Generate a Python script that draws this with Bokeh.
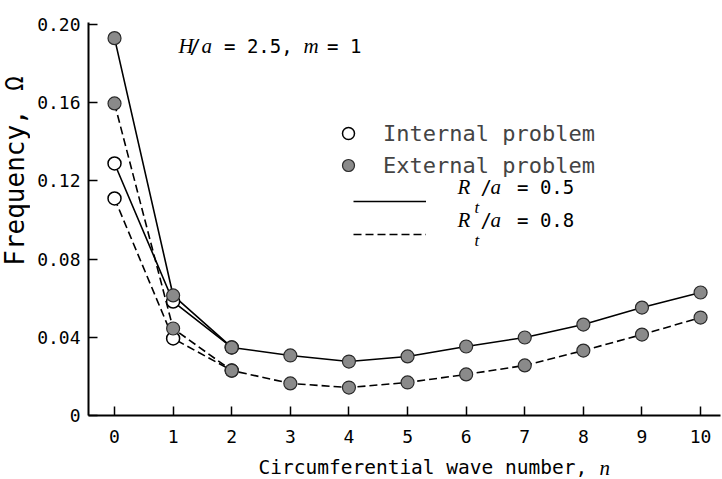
import math
from bokeh.plotting import figure
from bokeh.layouts import row, column
from bokeh.models import Range1d, FixedTicker, Label, Legend, LegendItem
from bokeh.embed import file_html
from bokeh.resources import INLINE

# ---------------- data ----------------
n_ext = [0, 1, 2, 3, 4, 5, 6, 7, 8, 9, 10]
ext_r05 = [0.193, 0.0614, 0.0348, 0.0307, 0.0276, 0.0302, 0.0353, 0.0399, 0.0465, 0.0552, 0.0629]
ext_r08 = [0.1596, 0.0445, 0.0230, 0.0164, 0.0143, 0.0169, 0.0210, 0.0256, 0.0332, 0.0414, 0.0501]
n_int = [0, 1, 2]
int_r05 = [0.1289, 0.0583, 0.0348]
int_r08 = [0.1110, 0.0394, 0.0230]

x_ticks = [0, 1, 2, 3, 4, 5, 6, 7, 8, 9, 10]
y_ticks = [0, 0.04, 0.08, 0.12, 0.16, 0.20]
y_tick_labels = ["0", "0.04", "0.08", "0.12", "0.16", "0.20"]

# ---------------- layout (page pixels) ----------------
PW, PH = 722, 479          # whole page
YT_W = 30                  # strip for the y-axis title
XT_H = 27                  # strip for the x-axis title
MW, MH = PW - YT_W, PH - XT_H
FL, FT, FR = 88, 22, 2     # frame edges in page pixels
FBOT = 415
X0, X1 = -0.444, 10.34
Y0, Y1 = 0.0, 0.201
FW = PW - FR - FL
FH = FBOT - FT

MONO = "DejaVu Sans Mono"
SERIF = "Liberation Serif"


def dx(ix):
    return X0 + (ix - FL) / FW * (X1 - X0)


def dy(iy):
    return Y1 - (iy - FT) / FH * (Y1 - Y0)


p = figure(width=MW, height=MH, output_backend="svg", toolbar_location=None,
           x_range=Range1d(X0, X1), y_range=Range1d(Y0, Y1),
           min_border_left=FL - YT_W, min_border_right=FR, min_border_top=FT,
           min_border_bottom=MH - FBOT)
p.outline_line_color = None
p.grid.visible = False
p.background_fill_color = "white"
p.border_fill_color = "white"

for ax in (p.xaxis[0], p.yaxis[0]):
    ax.axis_line_width = 2
    ax.axis_line_color = "black"
    ax.major_tick_in = 9
    ax.major_tick_out = 0
    ax.major_tick_line_width = 1.5
    ax.minor_tick_line_color = None
    ax.major_label_text_font = MONO
    ax.major_label_text_font_size = "18px"
    ax.major_label_text_color = "black"

p.xaxis[0].ticker = FixedTicker(ticks=x_ticks)
p.xaxis[0].major_label_standoff = 14
p.yaxis[0].ticker = FixedTicker(ticks=y_ticks)
p.yaxis[0].major_label_overrides = dict(zip(y_ticks, y_tick_labels))
p.yaxis[0].major_label_standoff = 8

# ---------------- series ----------------
LW = 1.6
DASH = "8 4"
p.line(n_int, int_r05, line_color="black", line_width=LW)
p.line(n_int, int_r08, line_color="black", line_width=LW, line_dash=DASH)
l05 = p.line(n_ext, ext_r05, line_color="black", line_width=LW)
l08 = p.line(n_ext, ext_r08, line_color="black", line_width=LW, line_dash=DASH)

s_int = p.scatter(n_int, int_r05, size=13, marker="circle", fill_color="white",
                  line_color="black", line_width=1.5)
p.scatter(n_int, int_r08, size=13, marker="circle", fill_color="white",
          line_color="black", line_width=1.5)
s_ext = p.scatter(n_ext, ext_r05, size=13, marker="circle", fill_color="#8a8a8a",
                  line_color="#2a2a2a", line_width=1.2)
p.scatter(n_ext, ext_r08, size=13, marker="circle", fill_color="#8a8a8a",
          line_color="#2a2a2a", line_width=1.2)

# ---------------- legends ----------------
legA = Legend(items=[LegendItem(label="Internal problem", renderers=[s_int]),
                     LegendItem(label="External problem", renderers=[s_ext])],
              location=(245, 235), glyph_width=30, glyph_height=30, label_height=30,
              spacing=2, padding=0, margin=0, label_standoff=20,
              label_text_font=MONO, label_text_font_size="22px",
              border_line_color=None, background_fill_alpha=0)
legB = Legend(items=[LegendItem(label=" ", renderers=[l05]),
                     LegendItem(label=" ", renderers=[l08])],
              location=(265, 166), glyph_width=73, glyph_height=30, label_height=30,
              spacing=3, padding=0, margin=0, label_standoff=5,
              label_text_font=MONO, label_text_font_size="12px",
              border_line_color=None, background_fill_alpha=0)
p.add_layout(legA)
p.add_layout(legB)


def put(fig, text, x, y, font=MONO, size="19px", style="normal", align="left", angle=0.0):
    fig.add_layout(Label(x=x, y=y, text=text, text_font=font, text_font_size=size,
                         text_font_style=style, text_align=align, text_baseline="middle",
                         text_color="black", angle=angle))


# annotation "H/a = 2.5, m = 1"
put(p, "H", dx(178), dy(45), SERIF, "21px", "italic")
put(p, "/", dx(189), dy(45))
put(p, "a", dx(201), dy(45), SERIF, "21px", "italic")
put(p, "= 2.5,", dx(223.5), dy(45))
put(p, "m", dx(303), dy(45), SERIF, "21px", "italic")
put(p, "= 1", dx(326.5), dy(45))

# legend line labels "R_t/a = 0.5" / "R_t/a = 0.8"
for iy, val in ((186, "0.5"), (219, "0.8")):
    put(p, "R", dx(457), dy(iy), SERIF, "21px", "italic")
    put(p, "t", dx(474), dy(iy + 21), SERIF, "17px", "italic")
    put(p, "/", dx(480), dy(iy))
    put(p, "a", dx(490), dy(iy), SERIF, "21px", "italic")
    put(p, "= " + val, dx(516.5), dy(iy))


# ---------------- axis-title strips ----------------
# Their frames are pinned to the main frame edges (layouts align frames),
# and their ranges are expressed in page pixels.
def strip(w, h, bl, br, bt, bb, xr, yr):
    f = figure(width=w, height=h, output_backend="svg", toolbar_location=None,
               x_range=Range1d(*xr), y_range=Range1d(*yr),
               x_axis_type=None, y_axis_type=None,
               min_border_left=bl, min_border_right=br, min_border_top=bt, min_border_bottom=bb)
    f.outline_line_color = None
    f.background_fill_color = "white"
    f.border_fill_color = "white"
    return f


# y-title strip: frame spans page y FT..FBOT ; y value = PH - page_y
yfig = strip(YT_W, PH, 0, 0, FT, PH - FBOT, (0, YT_W), (PH - FBOT, PH - FT))
put(yfig, "Frequency,", 14, PH - 187, MONO, "26px", align="center", angle=math.pi / 2)
put(yfig, "\u03a9", 14, PH - 83, MONO, "24px", align="center", angle=math.pi / 2)

# x-title strip: frame spans page x FL..PW-FR ; x value = page x
xfig = strip(MW, XT_H, FL - YT_W, FR, 0, 0, (FL, PW - FR), (0, XT_H))
put(xfig, "Circumferential wave number,", 258, PH - 467, MONO, "19.5px")
put(xfig, "n", 599, PH - 467, SERIF, "21px", "italic")

layout = row(yfig, column(p, xfig, spacing=0), spacing=0)

open("out.html", "w").write(file_html(layout, INLINE))
